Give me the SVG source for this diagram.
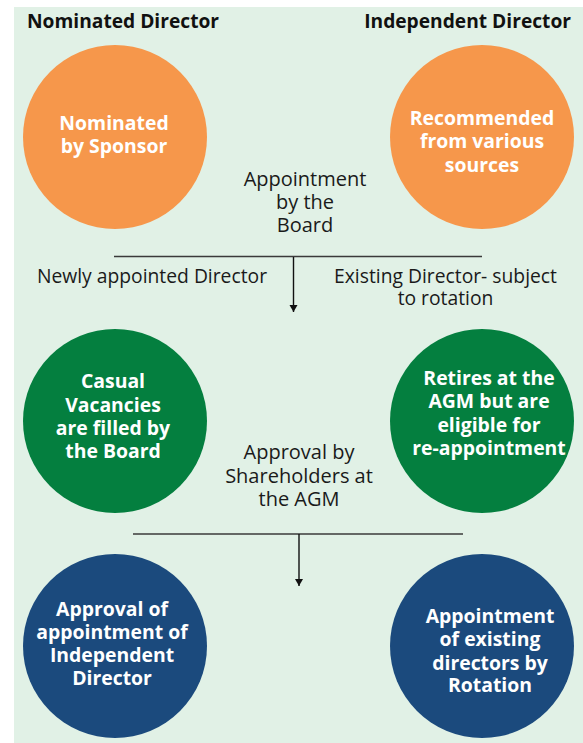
<svg xmlns="http://www.w3.org/2000/svg" width="583" height="743" viewBox="0 0 583 743">
<defs>
<style>
.hdr{font-family:"Open Sans","Noto Sans",sans-serif;font-weight:700;font-size:19.2px;fill:#111}
.ct{font-family:"Open Sans","Noto Sans",sans-serif;font-weight:700;font-size:19.4px;fill:#fff;text-anchor:middle}
.lbl{font-family:"Open Sans","Noto Sans",sans-serif;font-size:19.3px;fill:#1a1a1a;text-anchor:middle}
.mid{font-family:"Open Sans","Noto Sans",sans-serif;font-size:20px;fill:#1a1a1a;text-anchor:middle}
.org{fill:#F6974B}.grn{fill:#047F3F}.blu{fill:#1B4A7D}
.ln{stroke:#3a3a3a;stroke-width:1.6;fill:none}
.ar{stroke:#111;stroke-width:1.4;fill:none}
</style>
<marker id="ah" markerWidth="8" markerHeight="10" refX="7" refY="5" orient="auto" markerUnits="userSpaceOnUse">
<path d="M0,1 L7,5 L0,9 Z" fill="#111"/>
</marker>
</defs>
<rect x="14" y="7" width="569" height="736" fill="#E1F1E6"/>
<text class="hdr" x="27" y="28">Nominated Director</text>
<text class="hdr" x="571" y="28" text-anchor="end">Independent Director</text>

<g id="nominated">
<circle class="org" cx="115" cy="137" r="92"/>
<text class="ct" x="114" y="130">Nominated</text>
<text class="ct" x="114" y="153">by Sponsor</text>
</g>
<g id="recommended">
<circle class="org" cx="482" cy="137" r="92"/>
<text class="ct" x="482" y="125">Recommended</text>
<text class="ct" x="482" y="148">from various</text>
<text class="ct" x="482" y="172">sources</text>
</g>
<g id="board-appointment">
<text class="mid" x="305" y="186">Appointment</text>
<text class="mid" x="305" y="209">by the</text>
<text class="mid" x="305" y="232">Board</text>
</g>
<g id="casual">
<circle class="grn" cx="115" cy="421" r="92"/>
<text class="ct" x="113" y="388">Casual</text>
<text class="ct" x="113" y="412">Vacancies</text>
<text class="ct" x="113" y="435">are filled by</text>
<text class="ct" x="113" y="458">the Board</text>
</g>
<g id="retires">
<circle class="grn" cx="482" cy="421" r="92"/>
<text class="ct" x="489" y="385">Retires at the</text>
<text class="ct" x="489" y="408">AGM but are</text>
<text class="ct" x="489" y="432">eligible for</text>
<text class="ct" x="489" y="455">re-appointment</text>
</g>
<g id="shareholder-approval">
<text class="mid" x="299" y="459">Approval by</text>
<text class="mid" x="299" y="483">Shareholders at</text>
<text class="mid" x="299" y="506">the AGM</text>
</g>
<g id="approval-independent">
<circle class="blu" cx="115" cy="646" r="92"/>
<text class="ct" x="112" y="616">Approval of</text>
<text class="ct" x="112" y="639">appointment of</text>
<text class="ct" x="112" y="662">Independent</text>
<text class="ct" x="112" y="685">Director</text>
</g>
<g id="rotation">
<circle class="blu" cx="482" cy="646" r="92"/>
<text class="ct" x="490" y="623">Appointment</text>
<text class="ct" x="490" y="646">of existing</text>
<text class="ct" x="490" y="670">directors by</text>
<text class="ct" x="490" y="692">Rotation</text>
</g>
<g id="connectors">
<line class="ln" x1="114" y1="256.5" x2="482" y2="256.5"/>
<line class="ar" x1="293.5" y1="257" x2="293.5" y2="312" marker-end="url(#ah)"/>
<line class="ln" x1="133" y1="534" x2="463" y2="534"/>
<line class="ar" x1="299" y1="534" x2="299" y2="586" marker-end="url(#ah)"/>
<text class="lbl" x="152" y="283">Newly appointed Director</text>
<text class="lbl" x="445.5" y="283">Existing Director- subject</text>
<text class="lbl" x="445.5" y="305">to rotation</text>
</g>
</svg>
